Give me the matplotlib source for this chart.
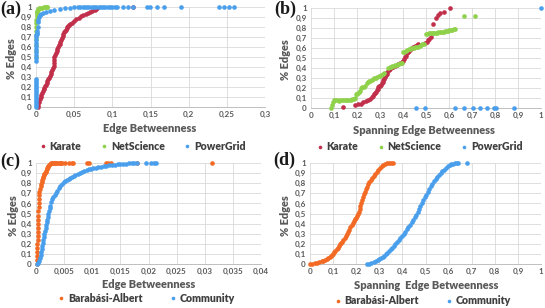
import matplotlib
matplotlib.use("Agg")
import matplotlib.pyplot as plt
from matplotlib.lines import Line2D

plt.rcParams['font.family'] = ['Lato', 'DejaVu Sans']

# ---------- (a) edge betweenness, real networks ----------
karate_a_x = [0.0025, 0.003, 0.004, 0.005, 0.006, 0.007, 0.008, 0.009, 0.010, 0.011, 0.012, 0.013, 0.014, 0.015,
              0.016, 0.017, 0.018, 0.019, 0.020, 0.021, 0.022, 0.023, 0.023, 0.024, 0.024, 0.025, 0.026, 0.027,
              0.028, 0.029, 0.030, 0.031, 0.032, 0.033, 0.034, 0.035, 0.036, 0.037, 0.038, 0.039, 0.040, 0.041,
              0.042, 0.043, 0.045, 0.047, 0.050, 0.053, 0.056, 0.059, 0.062, 0.065, 0.068, 0.071, 0.074, 0.077,
              0.079, 0.080, 0.127]
karate_a_y = [0.00, 0.02, 0.05, 0.08, 0.10, 0.12, 0.14, 0.16, 0.18, 0.19, 0.21, 0.22, 0.24, 0.26,
              0.28, 0.29, 0.31, 0.33, 0.35, 0.37, 0.39, 0.41, 0.44, 0.47, 0.50, 0.52, 0.54, 0.56,
              0.58, 0.60, 0.62, 0.63, 0.65, 0.67, 0.69, 0.71, 0.73, 0.75, 0.76, 0.77, 0.79, 0.80,
              0.81, 0.82, 0.83, 0.84, 0.86, 0.88, 0.89, 0.91, 0.92, 0.93, 0.94, 0.95, 0.96, 0.97,
              0.98, 0.99, 1.00]

netsci_a_x = [0.0002, 0.0002, 0.0003, 0.0003, 0.0004, 0.0004, 0.0005, 0.0005, 0.0006, 0.0007, 0.0008, 0.0010,
              0.0012, 0.0015, 0.0020, 0.0030, 0.0045, 0.0060, 0.0080, 0.0100, 0.0120, 0.0140, 0.0150]
netsci_a_y = [0.50, 0.56, 0.62, 0.68, 0.72, 0.76, 0.80, 0.84, 0.87, 0.90, 0.92, 0.94,
              0.955, 0.965, 0.975, 0.982, 0.988, 0.992, 0.995, 0.997, 0.998, 0.999, 1.00]

power_a_x = [0.0003, 0.0003, 0.0003, 0.0003, 0.0003, 0.0003, 0.0003, 0.0003, 0.0003, 0.0003, 0.0003, 0.0003,
             0.0003, 0.0003, 0.0003,
             0.0005, 0.0005, 0.0005, 0.0005, 0.0005, 0.0005, 0.0005, 0.0005, 0.0005, 0.0006, 0.0008, 0.0012,
             0.0017, 0.0020, 0.0025, 0.0030, 0.0040, 0.0050, 0.0070, 0.0096, 0.013, 0.018, 0.024, 0.031,
             0.038, 0.045, 0.050,
             0.055, 0.058, 0.061, 0.064, 0.067, 0.070, 0.073, 0.076, 0.079, 0.082, 0.085, 0.088, 0.091, 0.094,
             0.097, 0.100, 0.103, 0.106, 0.114, 0.120, 0.127, 0.145, 0.149, 0.159, 0.168, 0.190, 0.240, 0.246,
             0.253, 0.259]
power_a_y = [0.00, 0.02, 0.04, 0.06, 0.08, 0.10, 0.12, 0.14, 0.16, 0.18, 0.20, 0.22,
             0.24, 0.26, 0.28,
             0.46, 0.49, 0.52, 0.55, 0.58, 0.61, 0.64, 0.67, 0.70, 0.72, 0.73, 0.74,
             0.76, 0.80, 0.85, 0.87, 0.90, 0.92, 0.93, 0.94, 0.955, 0.965, 0.975, 0.98,
             0.987, 0.993, 0.997,
             1, 1, 1, 1, 1, 1, 1, 1, 1, 1, 1, 1, 1, 1,
             1, 1, 1, 1, 1, 1, 1, 1, 1, 1, 1, 1, 1, 1,
             1, 1]

# ---------- (b) spanning edge betweenness, real networks ----------
karate_b_x = [0.140, 0.190, 0.206, 0.218, 0.227, 0.238, 0.249, 0.257, 0.264, 0.270, 0.275, 0.278, 0.282, 0.286,
              0.290, 0.293, 0.297, 0.300, 0.304, 0.307, 0.311, 0.315, 0.318, 0.322, 0.326, 0.329, 0.332, 0.337,
              0.342, 0.351, 0.358, 0.366, 0.373, 0.380, 0.387, 0.394, 0.399, 0.404, 0.409, 0.414, 0.418, 0.423,
              0.428, 0.434, 0.440, 0.445, 0.452, 0.460, 0.467, 0.496, 0.504, 0.510, 0.515, 0.520, 0.532, 0.543,
              0.553, 0.561, 0.580, 0.604]
karate_b_y = [0.013, 0.030, 0.040, 0.045, 0.060, 0.070, 0.085, 0.095, 0.110, 0.125, 0.140, 0.155, 0.165, 0.180,
              0.195, 0.210, 0.220, 0.225, 0.235, 0.250, 0.262, 0.280, 0.295, 0.315, 0.330, 0.345, 0.365, 0.380,
              0.395, 0.410, 0.415, 0.425, 0.430, 0.440, 0.450, 0.462, 0.475, 0.490, 0.510, 0.525, 0.545, 0.560,
              0.575, 0.590, 0.600, 0.613, 0.625, 0.630, 0.640, 0.647, 0.665, 0.680, 0.695, 0.713, 0.840, 0.897,
              0.930, 0.947, 0.963, 0.997]

netsci_b_x = [0.085, 0.090, 0.095, 0.100, 0.104, 0.113, 0.120, 0.128, 0.135, 0.142, 0.150, 0.158, 0.165, 0.172,
              0.180, 0.186, 0.192, 0.196, 0.200, 0.205, 0.210, 0.214, 0.218, 0.222, 0.230, 0.236, 0.242, 0.248,
              0.253, 0.258, 0.264, 0.270, 0.276, 0.282, 0.288, 0.294, 0.300, 0.306, 0.312, 0.318, 0.336, 0.342,
              0.348, 0.354, 0.360, 0.366, 0.372, 0.378, 0.384, 0.390, 0.396, 0.402, 0.406, 0.412, 0.418, 0.424,
              0.430, 0.436, 0.442, 0.448, 0.454, 0.460, 0.466, 0.472, 0.478, 0.484, 0.490, 0.500, 0.506, 0.512,
              0.518, 0.524, 0.530, 0.536, 0.542, 0.548, 0.554, 0.560, 0.566, 0.572, 0.578, 0.584, 0.590, 0.596,
              0.602, 0.608, 0.614, 0.620, 0.626, 0.665, 0.713]
netsci_b_y = [0.003, 0.030, 0.060, 0.077, 0.077, 0.077, 0.075, 0.077, 0.077, 0.077, 0.078, 0.080, 0.082, 0.085,
              0.088, 0.092, 0.100, 0.140, 0.143, 0.150, 0.160, 0.175, 0.205, 0.210, 0.213, 0.217, 0.255, 0.265,
              0.270, 0.275, 0.282, 0.290, 0.300, 0.305, 0.310, 0.317, 0.325, 0.333, 0.340, 0.347, 0.405, 0.410,
              0.415, 0.420, 0.425, 0.430, 0.435, 0.440, 0.445, 0.450, 0.455, 0.560, 0.565, 0.570, 0.580, 0.587,
              0.592, 0.597, 0.600, 0.603, 0.607, 0.610, 0.615, 0.622, 0.630, 0.640, 0.645, 0.745, 0.745, 0.746,
              0.747, 0.748, 0.748, 0.750, 0.752, 0.754, 0.756, 0.758, 0.760, 0.762, 0.765, 0.768, 0.771, 0.774,
              0.777, 0.780, 0.783, 0.786, 0.790, 0.920, 0.925]

power_b_x = [0.455, 0.496, 0.626, 0.665, 0.706, 0.735, 0.764, 0.794, 0.803, 0.883, 1.0]
power_b_y = [0, 0, 0, 0, 0, 0, 0, 0, 0, 0, 1.0]

# ---------- (c) edge betweenness, synthetic networks ----------
ba_c_x = [0.0001, 0.0001, 0.0002, 0.0002, 0.0002, 0.0002, 0.0003, 0.0003, 0.0003, 0.0003, 0.0004, 0.0004,
          0.0004, 0.0004, 0.0005, 0.0005, 0.0005, 0.0006, 0.0006, 0.0007, 0.0008, 0.0009, 0.0010, 0.0011,
          0.0012, 0.0013, 0.0014, 0.0015, 0.0016, 0.0017, 0.0018, 0.0019, 0.0020, 0.0021, 0.0022, 0.0023,
          0.0024, 0.0026, 0.0028, 0.0030, 0.0032, 0.0034, 0.0036, 0.0038, 0.0040, 0.0042, 0.0044, 0.0046,
          0.0052, 0.0058, 0.0064, 0.0066, 0.0091, 0.0094, 0.0125, 0.0128, 0.0133, 0.0180, 0.0313]
ba_c_y = [0.00, 0.04, 0.08, 0.12, 0.16, 0.20, 0.24, 0.28, 0.32, 0.36, 0.40, 0.44,
          0.48, 0.52, 0.56, 0.60, 0.64, 0.68, 0.71, 0.74, 0.77, 0.79, 0.81, 0.83,
          0.85, 0.86, 0.88, 0.89, 0.90, 0.91, 0.92, 0.94, 0.95, 0.96, 0.97, 0.98,
          0.99, 1, 1, 1, 1, 1, 1, 1, 1, 1, 1, 1,
          1, 1, 1, 1, 1, 1, 1, 1, 1, 1, 1]

comm_c_x = [0.0001, 0.0003, 0.0005, 0.0007, 0.0008, 0.0009, 0.0010, 0.0011, 0.0012, 0.0013, 0.0014, 0.0015,
            0.0016, 0.0017, 0.0018, 0.0019, 0.0020, 0.0021, 0.0022, 0.0023, 0.0024, 0.0025, 0.0027, 0.0029,
            0.0031, 0.0033, 0.0035, 0.0037, 0.0040, 0.0043, 0.0046, 0.0049, 0.0052, 0.0055, 0.0058, 0.0061,
            0.0064, 0.0067, 0.0070, 0.0074, 0.0078, 0.0082, 0.0086, 0.0090, 0.0094, 0.0098, 0.0102, 0.0106,
            0.0110, 0.0115, 0.0120, 0.0125, 0.0130, 0.0135, 0.0140, 0.0145, 0.0150, 0.0155, 0.0160, 0.0165,
            0.0170, 0.0175, 0.0180, 0.0195, 0.0205, 0.0210, 0.0213]
comm_c_y = [0.00, 0.01, 0.03, 0.06, 0.09, 0.12, 0.15, 0.18, 0.21, 0.24, 0.27, 0.30,
            0.33, 0.36, 0.39, 0.42, 0.44, 0.47, 0.50, 0.52, 0.55, 0.57, 0.61, 0.64,
            0.66, 0.68, 0.70, 0.72, 0.75, 0.77, 0.79, 0.81, 0.82, 0.83, 0.84, 0.85,
            0.86, 0.87, 0.88, 0.89, 0.90, 0.91, 0.92, 0.93, 0.94, 0.945, 0.95, 0.955,
            0.96, 0.965, 0.97, 0.975, 0.978, 0.982, 0.985, 0.988, 0.99, 0.992, 0.994, 0.996,
            0.997, 0.998, 0.999, 1.0, 1.0, 1.0, 1.0]

# ---------- (d) spanning edge betweenness, synthetic networks ----------
ba_d_x = [0.000, 0.010, 0.020, 0.030, 0.040, 0.050, 0.058, 0.066, 0.073, 0.079, 0.085, 0.090, 0.095, 0.100,
          0.105, 0.110, 0.115, 0.120, 0.125, 0.130, 0.135, 0.140, 0.145, 0.150, 0.155, 0.160, 0.165, 0.170,
          0.175, 0.180, 0.185, 0.190, 0.195, 0.200, 0.205, 0.209, 0.212, 0.215, 0.218, 0.221, 0.224, 0.228,
          0.232, 0.237, 0.242, 0.247, 0.252, 0.257, 0.263, 0.269, 0.275, 0.282, 0.289, 0.296, 0.303, 0.310,
          0.318, 0.326, 0.334, 0.343, 0.352, 0.361]
ba_d_y = [0.000, 0.004, 0.008, 0.013, 0.020, 0.027, 0.034, 0.043, 0.052, 0.062, 0.072, 0.080, 0.090, 0.100,
          0.115, 0.130, 0.148, 0.160, 0.178, 0.195, 0.210, 0.222, 0.240, 0.258, 0.280, 0.300, 0.318, 0.340,
          0.365, 0.390, 0.410, 0.428, 0.442, 0.458, 0.475, 0.492, 0.515, 0.545, 0.575, 0.605, 0.635, 0.665,
          0.690, 0.715, 0.740, 0.765, 0.790, 0.810, 0.830, 0.850, 0.870, 0.893, 0.915, 0.935, 0.952, 0.967,
          0.980, 0.990, 0.996, 0.999, 1.000, 1.000]

comm_d_x = [0.245, 0.255, 0.265, 0.275, 0.285, 0.293, 0.300, 0.307, 0.314, 0.321, 0.328, 0.335, 0.342, 0.349,
            0.356, 0.363, 0.370, 0.377, 0.384, 0.391, 0.398, 0.405, 0.412, 0.419, 0.426, 0.433, 0.440, 0.447,
            0.454, 0.460, 0.466, 0.472, 0.478, 0.484, 0.490, 0.496, 0.502, 0.509, 0.516, 0.523, 0.530, 0.537,
            0.544, 0.551, 0.558, 0.565, 0.572, 0.580, 0.588, 0.596, 0.604, 0.612, 0.620, 0.628, 0.636, 0.641,
            0.680]
comm_d_y = [0.000, 0.003, 0.008, 0.015, 0.025, 0.035, 0.045, 0.057, 0.070, 0.083, 0.097, 0.112, 0.128, 0.145,
            0.162, 0.180, 0.198, 0.217, 0.236, 0.256, 0.277, 0.298, 0.320, 0.342, 0.365, 0.388, 0.412, 0.437,
            0.462, 0.490, 0.518, 0.546, 0.575, 0.605, 0.635, 0.662, 0.688, 0.715, 0.742, 0.768, 0.793, 0.817,
            0.840, 0.862, 0.882, 0.900, 0.917, 0.935, 0.952, 0.966, 0.978, 0.988, 0.994, 0.998, 1.000, 1.000,
            1.000]

# ticks
y_ticks = [0, 0.1, 0.2, 0.3, 0.4, 0.5, 0.6, 0.7, 0.8, 0.9, 1.0]
y_labels = ['0', '0,1', '0,2', '0,3', '0,4', '0,5', '0,6', '0,7', '0,8', '0,9', '1']
a_ticks = [0, 0.05, 0.1, 0.15, 0.2, 0.25, 0.3]
a_labels = ['0', '0,05', '0,1', '0,15', '0,2', '0,25', '0,3']
c_ticks = [0, 0.005, 0.01, 0.015, 0.02, 0.025, 0.03, 0.035, 0.04]
c_labels = ['0', '0,005', '0,01', '0,015', '0,02', '0,025', '0,03', '0,035', '0,04']
s_ticks = y_ticks
s_labels = y_labels

RED = '#c22f4b'
GREEN = '#8fd14b'
BLUE = '#4a9fec'
ORANGE = '#f26a24'
TXT = '#595959'
LEG = '#404040'

W, H = 545, 308
fig = plt.figure(figsize=(W / 100, H / 100), dpi=100)


def make_ax(left, right, top, bottom):
    return fig.add_axes([left / W, 1 - bottom / H, (right - left) / W, (bottom - top) / H])


def style(ax, xt, xl, xmax, xlabel, lab_pos, ylab_x, series):
    for x, y, c in series:
        ax.scatter(x, y, s=11, color=c, linewidths=0, clip_on=False, zorder=3)
    ax.set_xlim(0, xmax)
    ax.set_ylim(0, 1)
    ax.set_xticks(xt)
    ax.set_xticklabels(xl)
    ax.set_yticks(y_ticks)
    ax.set_yticklabels(y_labels)
    ax.tick_params(length=0, labelsize=5.8, labelcolor=TXT, pad=3)
    for t in ax.get_xticklabels() + ax.get_yticklabels():
        t.set_fontweight('bold')
    ax.grid(True, color='#d9d9d9', lw=0.6)
    ax.set_axisbelow(True)
    for sp in ['top', 'right', 'left']:
        ax.spines[sp].set_visible(False)
    ax.spines['bottom'].set_color('#bfbfbf')
    ax.spines['bottom'].set_linewidth(0.7)
    ax.text(lab_pos[0], lab_pos[1], xlabel, transform=ax.transAxes, ha='center', va='center',
            fontsize=7.9, fontweight='heavy', color=TXT)
    ax.text(ylab_x, 0.48, '% Edges', transform=ax.transAxes, ha='center', va='center',
            rotation=90, fontsize=7.9, fontweight='heavy', color=TXT)


def legend(ax, names, colors, pos, spacing):
    handles = [Line2D([], [], ls='', marker='o', ms=2.6, color=c, mew=0) for c in colors]
    lg = ax.legend(handles, names, loc='center', bbox_to_anchor=pos, ncol=len(names), frameon=False,
                   handlelength=0.5, handletextpad=0.4, columnspacing=spacing, borderpad=0,
                   prop={'size': 7.6, 'weight': 'heavy'})
    for t in lg.get_texts():
        t.set_color(LEG)


ax_a = make_ax(36, 265, 7, 107)
style(ax_a, a_ticks, a_labels, 0.3, 'Edge Betweenness', (0.494, -0.21), -0.105,
      [(karate_a_x, karate_a_y, RED), (netsci_a_x, netsci_a_y, GREEN), (power_a_x, power_a_y, BLUE)])
legend(ax_a, ['Karate', 'NetScience', 'PowerGrid'], [RED, GREEN, BLUE], (0.467, -0.39), 1.9)

ax_b = make_ax(311, 541, 8, 108)
style(ax_b, s_ticks, s_labels, 1.0, 'Spanning Edge Betweenness', (0.493, -0.23), -0.112,
      [(karate_b_x, karate_b_y, RED), (netsci_b_x, netsci_b_y, GREEN), (power_b_x, power_b_y, BLUE)])
legend(ax_b, ['Karate', 'NetScience', 'PowerGrid'], [RED, GREEN, BLUE], (0.473, -0.387), 1.9)

ax_c = make_ax(36, 261, 163, 264)
style(ax_c, c_ticks, c_labels, 0.04, 'Edge Betweenness', (0.502, -0.2), -0.10,
      [(ba_c_x, ba_c_y, ORANGE), (comm_c_x, comm_c_y, BLUE)])
legend(ax_c, ['Barabási-Albert', 'Community'], [ORANGE, BLUE], (0.493, -0.338), 2.6)

ax_d = make_ax(310, 541, 163, 264)
style(ax_d, s_ticks, s_labels, 1.0, 'Spanning  Edge Betweenness', (0.502, -0.21), -0.107,
      [(ba_d_x, ba_d_y, ORANGE), (comm_d_x, comm_d_y, BLUE)])
legend(ax_d, ['Barabási-Albert', 'Community'], [ORANGE, BLUE], (0.489, -0.364), 2.6)

# panel letters
for txt, px, py in [('(a)', 0, 13.5), ('(b)', 274, 13.5), ('(c)', 0, 166), ('(d)', 273, 165)]:
    fig.text(px / W, 1 - py / H, txt, ha='left', va='baseline', fontsize=13, fontweight='bold',
             family='Liberation Serif', color='#1a1a1a')

fig.savefig('out.png', dpi=100)
